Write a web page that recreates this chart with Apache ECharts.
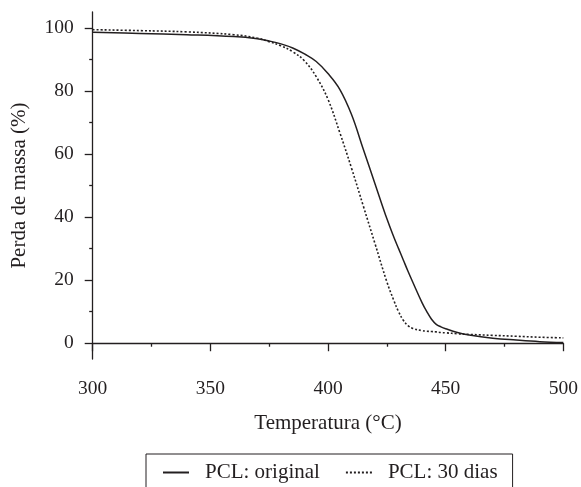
<!DOCTYPE html>
<html lang="pt">
<head>
    <meta charset="utf-8">
    <script src="https://cdn.jsdelivr.net/npm/echarts@6/dist/echarts.min.js"></script>
    <title>Perda de massa - PCL</title>
    <style>
        html, body { margin: 0; padding: 0; background: #fff; }
        #main { width: 581px; height: 487px; }
    </style>
</head>
<body>
<div id="main"></div>
<script>
    // temperatura (°C)
    var temperatura = [300, 320, 340, 360, 370, 375, 380, 385, 390, 395, 400, 405, 410, 415,
        420, 425, 428, 430, 432, 434, 436, 440, 442, 444, 446, 448, 450, 455, 460, 470, 480, 490, 500];
    // perda de massa (%)
    var pclOriginal = [98.6, 98.2, 97.8, 97.2, 96.5, 95.8, 94.9, 93.6, 91.7, 89.3, 85.5, 80.5, 72.5, 61.5,
        50.5, 39.5, 33.6, 30.0, 26.4, 22.8, 19.4, 12.8, 10.0, 7.6, 6.0, 5.2, 4.6, 3.4, 2.6, 1.6, 1.0, 0.5, 0.2];
    var pcl30dias = [99.4, 99.1, 98.7, 97.8, 96.7, 95.6, 94.3, 92.4, 89.5, 84.5, 77.3, 66.8, 55.5, 43.5,
        31.5, 19.5, 13.5, 10.0, 7.3, 5.6, 4.7, 4.0, 3.8, 3.7, 3.6, 3.4, 3.3, 3.0, 2.8, 2.5, 2.2, 1.9, 1.7];
    var yTicks = [0, 20, 40, 60, 80, 100];
    var yMinorTicks = [10, 30, 50, 70, 90];

    var ink = '#231f20';
    var serif = '"Liberation Serif", "DejaVu Serif", serif';

    function pairs(xs, ys) {
        return xs.map(function (x, i) { return [x, ys[i]]; });
    }

    var myChart = echarts.init(document.getElementById('main'));

    var option = {
        animation: false,
        textStyle: { fontFamily: serif, color: ink },
        grid: { left: 92.7, right: 17.7, top: 12, bottom: 128 },
        legend: {
            left: 146,
            top: 454,
            padding: [8, 15, 8, 16],
            borderColor: ink,
            borderWidth: 1,
            itemWidth: 26,
            itemHeight: 14,
            itemGap: 25,
            itemStyle: { opacity: 0 },
            textStyle: { fontFamily: serif, fontSize: 21, color: ink, padding: [0, 0, 0, 11] },
            data: ['PCL: original', 'PCL: 30 dias']
        },
        xAxis: {
            type: 'value',
            min: 300,
            max: 500,
            interval: 50,
            name: 'Temperatura (°C)',
            nameLocation: 'middle',
            nameGap: 54,
            nameTextStyle: { fontFamily: serif, fontSize: 21, color: ink },
            axisLine: { lineStyle: { color: ink, width: 1.3 } },
            axisTick: { length: 8, lineStyle: { color: ink, width: 1.3 } },
            minorTick: { show: true, splitNumber: 2, length: 3.5, lineStyle: { color: ink, width: 1.3 } },
            axisLabel: { margin: 20, fontFamily: serif, fontSize: 19.5, color: ink },
            splitLine: { show: false }
        },
        yAxis: [
            {
                type: 'value',
                min: -5,
                max: 105,
                name: 'Perda de massa (%)',
                nameLocation: 'middle',
                nameGap: 63,
                nameTextStyle: { fontFamily: serif, fontSize: 21, color: ink },
                axisLine: { show: true, lineStyle: { color: ink, width: 1.3 } },
                axisTick: { show: true, length: 8, customValues: yTicks, lineStyle: { color: ink, width: 1.3 } },
                axisLabel: { margin: 19, fontFamily: serif, fontSize: 19.5, color: ink, customValues: yTicks },
                splitLine: { show: false }
            },
            {
                // ticks menores
                type: 'value',
                position: 'left',
                min: -5,
                max: 105,
                axisLine: { show: false },
                axisTick: { show: true, length: 3.5, customValues: yMinorTicks, lineStyle: { color: ink, width: 1.3 } },
                axisLabel: { show: false },
                splitLine: { show: false }
            }
        ],
        series: [
            {
                name: 'PCL: original',
                type: 'line',
                data: pairs(temperatura, pclOriginal),
                smooth: 0.4,
                symbol: 'none',
                lineStyle: { color: ink, width: 1.5, type: 'solid' },
                itemStyle: { color: ink }
            },
            {
                name: 'PCL: 30 dias',
                type: 'line',
                data: pairs(temperatura, pcl30dias),
                smooth: 0.4,
                symbol: 'none',
                lineStyle: { color: ink, width: 1.6, type: [2, 2] },
                itemStyle: { color: ink }
            }
        ]
    };
    myChart.setOption(option);
</script>
</body>
</html>
